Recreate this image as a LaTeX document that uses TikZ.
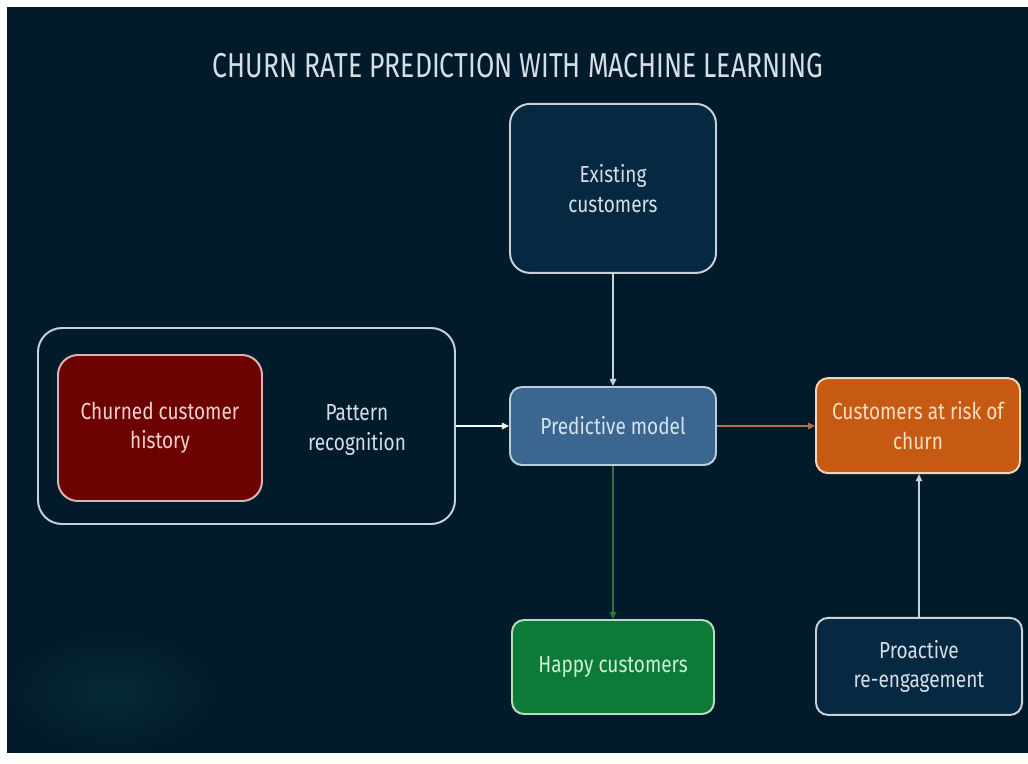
\documentclass[tikz,border=0pt]{standalone}
\usepackage{fontspec}
\setmainfont{Fira Sans}[FakeStretch=0.82]
\newfontfamily\titlefont{Fira Sans}[FakeStretch=0.77]
\usetikzlibrary{arrows.meta,positioning}
\definecolor{cBg}{HTML}{021B2A}
\definecolor{cGlow}{HTML}{072A37}
\definecolor{cText}{HTML}{D6DEE6}
\definecolor{cEdge}{HTML}{C9D1D9}
\definecolor{cNavyF}{HTML}{062840}
\definecolor{cRedF}{HTML}{6C0202}
\definecolor{cRedL}{HTML}{D9B4B4}
\definecolor{cRedT}{HTML}{F2D2CF}
\definecolor{cBlueF}{HTML}{3A6690}
\definecolor{cBlueL}{HTML}{B8CDE0}
\definecolor{cBlueT}{HTML}{D4E4F2}
\definecolor{cOrgF}{HTML}{C75A12}
\definecolor{cOrgL}{HTML}{F0D6BC}
\definecolor{cOrgT}{HTML}{F8E0C4}
\definecolor{cGrnF}{HTML}{0E7A38}
\definecolor{cGrnL}{HTML}{B4DEC0}
\definecolor{cGrnT}{HTML}{CDF2D6}
\definecolor{cOrgA}{HTML}{B27050}
\definecolor{cGrnA}{HTML}{2E7444}
\tikzset{
  box/.style={draw=cEdge,line width=1.4pt,align=center,text=cText,
      font=\fontsize{16.5}{21}\selectfont,inner sep=0pt},
  navybox/.style={box,fill=cNavyF},
  redbox/.style={box,fill=cRedF,draw=cRedL,text=cRedT},
  bluebox/.style={box,fill=cBlueF,draw=cBlueL,text=cBlueT},
  orgbox/.style={box,fill=cOrgF,draw=cOrgL,text=cOrgT},
  grnbox/.style={box,fill=cGrnF,draw=cGrnL,text=cGrnT},
  flow/.style={-{Triangle[length=5pt,width=4.5pt]},line width=1pt,draw=cEdge},
}
\begin{document}
\begin{tikzpicture}[x=1cm,y=1cm]
  \useasboundingbox (0,0) rectangle (25.7,-19.075);
  \fill[white] (0,0) rectangle (25.7,-19.075);
  \fill[cBg] (0.175,-0.175) rectangle (25.7,-18.825);
  \shade[inner color=cGlow,outer color=cBg] (2.8,-17.3) ellipse (2.6 and 1.5);

  \node[text=cText,font=\titlefont\fontsize{24.5}{28}\selectfont] (title) at (12.95,-1.65)
    {CHURN RATE PREDICTION WITH MACHINE LEARNING};

  % left group: history and pattern recognition
  \node[box,rounded corners=0.6cm,minimum width=10.425cm,minimum height=4.9cm]
    (group) at (6.1625,-10.65) {};
  \node[redbox,rounded corners=0.5cm,minimum width=5.1cm,minimum height=3.65cm]
    (hist) at (4.0,-10.7) {Churned customer\\history};
  \node[text=cText,align=center,font=\fontsize{16.5}{21}\selectfont]
    (pattern) at (8.925,-10.75) {Pattern\\recognition};

  \node[navybox,rounded corners=0.5cm,minimum width=5.15cm,minimum height=4.225cm]
    (exist) at (15.325,-4.71) {Existing\\customers};
  \node[bluebox,rounded corners=0.3cm,minimum width=5.15cm,minimum height=1.95cm]
    (model) at (15.325,-10.65) {Predictive model};
  \node[orgbox,rounded corners=0.3cm,minimum width=5.1cm,minimum height=2.375cm]
    (risk) at (22.95,-10.64) {Customers at risk of\\churn};
  \node[grnbox,rounded corners=0.3cm,minimum width=5.05cm,minimum height=2.35cm]
    (happy) at (15.325,-16.675) {Happy customers};
  \node[navybox,rounded corners=0.3cm,minimum width=5.15cm,minimum height=2.425cm]
    (pro) at (22.975,-16.66) {Proactive\\re-engagement};

  \draw[flow] (exist) -- (model);
  \draw[flow,draw=white] (group.east) -- (model.west);
  \draw[flow,draw=cOrgA] (model.east) -- (model.east -| risk.west);
  \draw[flow,draw=cGrnA] (model) -- (happy);
  \draw[flow] (pro.north) -- (pro.north |- risk.south);
\end{tikzpicture}
\end{document}
